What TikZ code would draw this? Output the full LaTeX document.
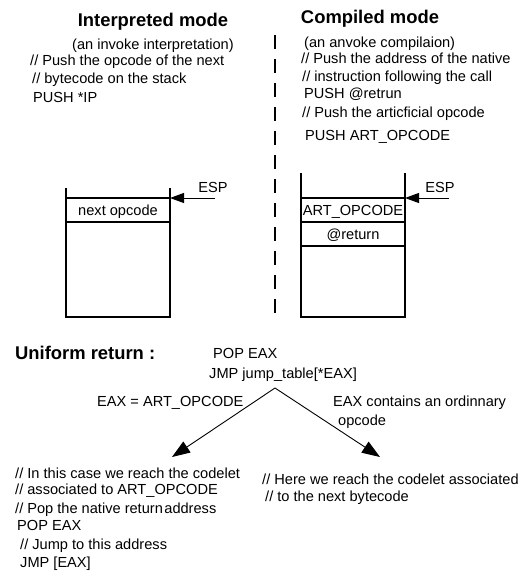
\documentclass[tikz,border=0pt]{standalone}
\usepackage{fontspec}
\setmainfont{Liberation Sans}
\usetikzlibrary{arrows.meta}
\begin{document}
\begin{tikzpicture}[x=1pt,y=-1pt,
  txt/.style={anchor=base west,inner sep=0pt,font=\fontsize{14.6}{16}\selectfont},
  ctxt/.style={anchor=base,inner sep=0pt,font=\fontsize{14.6}{16}\selectfont},
  ttl/.style={anchor=base,inner sep=0pt,font=\fontsize{18.4}{20}\selectfont\bfseries},
  stackline/.style={line width=1.3pt},
  esparrow/.style={line width=1pt,-{Triangle[length=14pt,width=10pt]}},
  brancharrow/.style={line width=0.9pt,-{Triangle[length=18pt,width=13pt]}},
  sep/.style={line width=1.2pt,dash pattern=on 14pt off 10pt}]
\useasboundingbox (0,0) rectangle (523,574);
% titles
\node[ttl] (t1) at (153,26) {Interpreted mode};
\node[ttl] (t2) at (370,23) {Compiled mode};
% left text
\node[txt] (l1) at (72,49) {(an invoke interpretation)};
\node[txt] (l2) at (30,65) {// Push the opcode of the next};
\node[txt] (l3) at (32,83) {// bytecode on the stack};
\node[txt] (l4) at (33,102) {PUSH *IP};
% right text
\node[txt] (r1) at (304,47) {(an anvoke compilaion)};
\node[txt] (r2) at (301,63) {// Push the address of the native};
\node[txt] (r3) at (302,81) {// instruction following the call};
\node[txt] (r4) at (304,98) {PUSH @retrun};
\node[txt] (r5) at (302,117) {// Push the articficial opcode};
\node[txt] (r6) at (305,140) {PUSH ART\_OPCODE};
% separator
\draw[sep] (275,35) -- (275,316);
% left stack
\draw[stackline] (66,188) -- (66,317) -- (170,317) -- (170,188);
\draw[stackline] (66,198) -- (170,198);
\draw[stackline] (66,222) -- (170,222);
\node[ctxt] (s1) at (118,215) {next opcode};
\coordinate (lsp) at (170,198);
\coordinate (lspe) at (215,198);
\draw[esparrow] (lspe) -- (lsp);
\node[ctxt] (e1) at (213,192) {ESP};
% right stack
\draw[stackline] (301,173) -- (301,317) -- (405,317) -- (405,173);
\draw[stackline] (301,198) -- (405,198);
\draw[stackline] (301,222) -- (405,222);
\draw[stackline] (301,246) -- (405,246);
\node[ctxt] (s2) at (353,215) {ART\_OPCODE};
\node[ctxt] (s3) at (353,239) {@return};
\coordinate (rsp) at (405,198);
\coordinate (rspe) at (449,198);
\draw[esparrow] (rspe) -- (rsp);
\node[ctxt] (e2) at (440,192) {ESP};
% uniform return
\node[anchor=base west,inner sep=0pt,font=\fontsize{18.4}{20}\selectfont\bfseries] (u) at (15,359) {Uniform return :};
\node[txt] (p1) at (213,358) {POP EAX};
\node[txt] (p2) at (209,378) {JMP jump\_table[*EAX]};
\coordinate (apex) at (275,388);
\coordinate (ltip) at (172,457);
\coordinate (rtip) at (380,457);
\draw[brancharrow] (apex) -- (ltip);
\draw[brancharrow] (apex) -- (rtip);
\node[txt] (c1) at (97,406) {EAX = ART\_OPCODE};
\node[txt] (c2) at (333,406) {EAX contains an ordinnary};
\node[txt] (c3) at (338,425) {opcode};
% bottom left
\node[txt] (b1) at (15,478) {// In this case we reach the codelet};
\node[txt] (b2) at (15,494) {// associated to ART\_OPCODE};
\node[txt] (b3) at (15,513) {// Pop the native return\hspace{1.5pt}address};
\node[txt] (b4) at (17,530) {POP EAX};
\node[txt] (b5) at (20,549) {// Jump to this address};
\node[txt] (b6) at (20,567) {JMP [EAX]};
% bottom right
\node[txt] (d1) at (262,484) {// Here we reach the codelet associated};
\node[txt] (d2) at (265,501) {// to the next bytecode};
\end{tikzpicture}
\end{document}
